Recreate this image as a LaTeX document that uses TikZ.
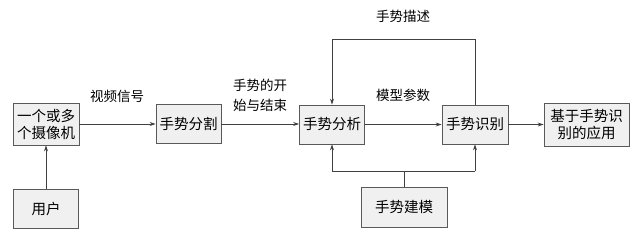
\documentclass[tikz,border=0pt]{standalone}
\usepackage{fontspec}
\setmainfont{Noto Sans CJK SC}
\usetikzlibrary{arrows.meta}
\begin{document}
\begin{tikzpicture}[x=1pt,y=-1pt,
  blk/.style={draw=black!65,line width=0.8pt,fill=black!6,inner sep=0pt,align=center,font=\fontsize{14.5}{17}\selectfont},
  lbl/.style={font=\fontsize{13.5}{20}\selectfont,align=center,inner sep=0pt},
  arr/.style={draw=black!75,line width=0.7pt,-{Stealth[length=6pt,width=4pt]}},
  ln/.style={draw=black!75,line width=0.7pt}]
\useasboundingbox (0,0) rectangle (640,238);
\node[blk,minimum width=66,minimum height=42] (cam) at (46,124) {一个或多\\个摄像机};
\node[blk,minimum width=65,minimum height=39] (user) at (46,208.5) {用户};
\node[blk,minimum width=65,minimum height=39] (seg) at (188.5,124) {手势分割};
\node[blk,minimum width=65,minimum height=39] (ana) at (332,124.5) {手势分析};
\node[blk,minimum width=66,minimum height=39] (rec) at (475,124.5) {手势识别};
\node[blk,minimum width=85,minimum height=43] (app) at (586.5,124.5) {基于手势识\\别的应用};
\node[blk,minimum width=86,minimum height=40] (mod) at (404,207) {手势建模};
\coordinate (tl) at (332,39);
\coordinate (tr) at (475,39);
\coordinate (bl) at (332,171);
\coordinate (br) at (475,171);
\coordinate (bm) at (404,171);
\draw[arr] (user) -- (cam);
\draw[arr] (cam) -- (seg);
\draw[arr] (seg) -- (ana.west |- seg.east);
\draw[arr] (ana) -- (rec);
\draw[arr] (rec) -- (app.west |- rec.east);
\draw[arr] (rec.north) -- (tr) -- (tl) -- (ana.north);
\draw[ln] (mod.north) -- (bm);
\draw[arr] (bl) -- (ana.south);
\draw[arr] (br) -- (rec.south);
\draw[ln] (bl) -- (br);
\node[lbl] (l1) at (117,96) {视频信号};
\node[lbl] (l2) at (260,95) {手势的开\\始与结束};
\node[lbl] (l3) at (403,95) {模型参数};
\node[lbl] (l4) at (403,16) {手势描述};
\end{tikzpicture}
\end{document}
